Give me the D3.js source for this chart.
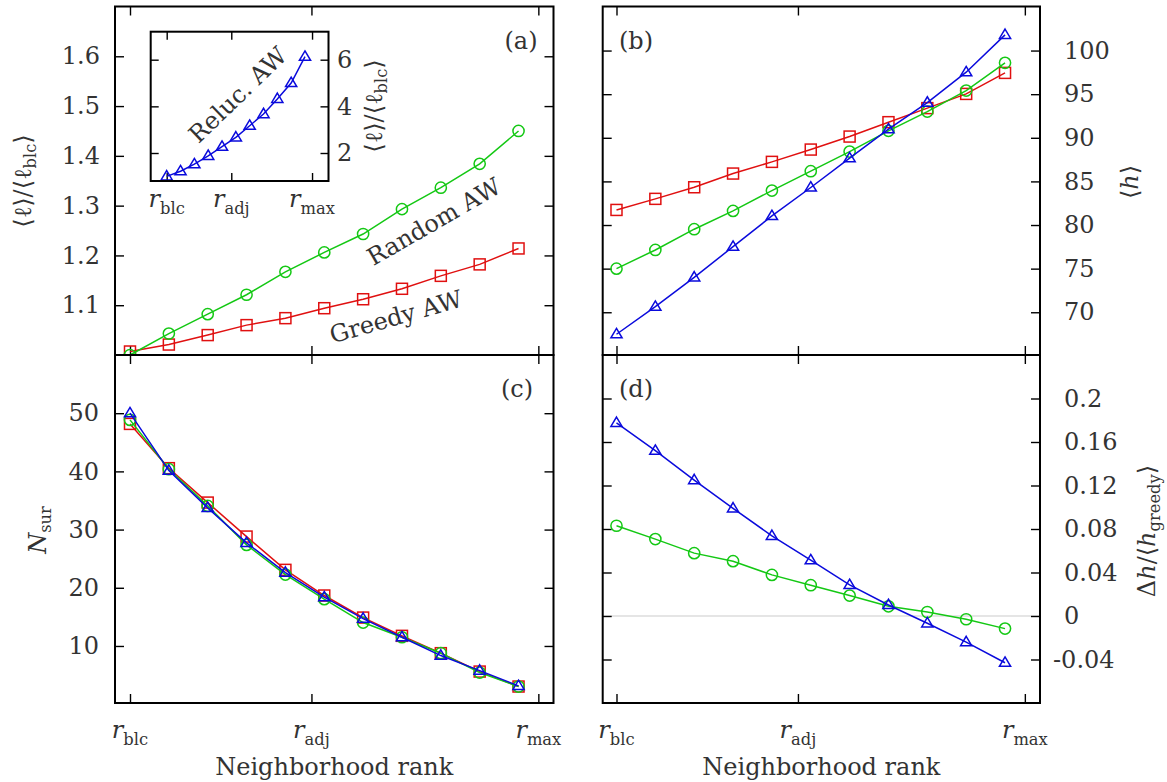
<!DOCTYPE html>
<html><head><meta charset="utf-8">
<script src="https://cdn.jsdelivr.net/npm/d3@7"></script>
<style>body{margin:0;background:#fff}</style>
</head><body>
<svg id="c" width="1167" height="782"></svg>
<script>
// ---------------- data ----------------
const ranks = [0,1,2,3,4,5,6,7,8,9,10];
const xTickPos = [0, 4.67, 10.51];
const xTickSubs = ["blc","adj","max"];

// (a) <l>/<l_blc>
const greedyLen = [1.007, 1.021, 1.040, 1.060, 1.074, 1.094, 1.112, 1.133, 1.159, 1.182, 1.214];
const randomLen = [1.000, 1.043, 1.082, 1.121, 1.167, 1.206, 1.243, 1.293, 1.336, 1.384, 1.450];
// inset: reluctant
const relucLen  = [1.00, 1.22, 1.52, 1.88, 2.27, 2.67, 3.17, 3.67, 4.32, 5.00, 6.13];

// (b) <h>
const greedyH = [81.73, 83.00, 84.33, 85.90, 87.24, 88.65, 90.14, 91.79, 93.40, 95.03, 97.44];
const randomH = [75.00, 77.14, 79.52, 81.62, 83.95, 86.17, 88.42, 90.80, 93.00, 95.41, 98.59];
const relucH  = [67.48, 70.64, 74.00, 77.52, 81.04, 84.30, 87.66, 90.99, 94.04, 97.52, 101.80];

// (c) N_sur
const greedyN = [48.16, 40.55, 34.64, 28.80, 23.08, 18.67, 14.88, 11.74, 8.76, 5.60, 3.03];
const randomN = [48.85, 40.38, 34.07, 27.37, 22.27, 18.04, 14.02, 11.50, 8.76, 5.43, 3.03];
const relucN  = [50.00, 40.14, 33.73, 27.72, 22.61, 18.38, 14.71, 11.50, 8.35, 5.77, 3.14];

// (d) Delta h / <h_greedy>
const randomDh = [0.0830, 0.0707, 0.0578, 0.0504, 0.0378, 0.0283, 0.0188, 0.0089, 0.0037, -0.0030, -0.0116];
const relucDh  = [0.1776, 0.1520, 0.1250, 0.0990, 0.0737, 0.0513, 0.0286, 0.0101, -0.0067, -0.0240, -0.0430];

const yTicksA = [1.1, 1.2, 1.3, 1.4, 1.5, 1.6];
const yTicksB = [70, 75, 80, 85, 90, 95, 100];
const yTicksC = [10, 20, 30, 40, 50];
const yTicksD = [-0.04, 0, 0.04, 0.08, 0.12, 0.16, 0.2];
const yTicksInset = [2, 4, 6];

// ---------------- style ----------------
const FONT = "DejaVu Serif";
const FS = 24;
const TXT = "#333333";
const RED = "#e01010", GREEN = "#14c814", BLUE = "#0a0adc";

const svg = d3.select("#c");

function rich(parent, x, y, parts, o = {}) {
  const size = o.size || FS;
  const t = parent.append("text").attr("x", x).attr("y", y)
    .attr("text-anchor", o.anchor || "middle")
    .attr("font-family", FONT).attr("font-size", size).attr("fill", TXT);
  if (o.baseline) t.attr("dominant-baseline", o.baseline);
  let shift = 0;
  for (const [s, k] of parts) {
    const sub = k.includes("s");
    const ts = t.append("tspan").text(s);
    if (k.includes("i")) ts.attr("font-style", "italic");
    if (sub) ts.attr("font-size", size * 0.68);
    const target = sub ? size * 0.3 : 0;
    if (target !== shift) { ts.attr("dy", target - shift); shift = target; }
  }
  if (o.rotate) t.attr("transform", `rotate(${o.rotate},${x},${y})`);
  return t;
}

function marker(g, shape, color, pts) {
  const sel = g.selectAll(null).data(pts).enter();
  if (shape === "square") {
    sel.append("rect").attr("x", d => d[0] - 5.5).attr("y", d => d[1] - 5.5)
      .attr("width", 11).attr("height", 11)
      .attr("fill", "none").attr("stroke", color).attr("stroke-width", 1.5);
  } else if (shape === "circle") {
    sel.append("circle").attr("cx", d => d[0]).attr("cy", d => d[1]).attr("r", 5.6)
      .attr("fill", "none").attr("stroke", color).attr("stroke-width", 1.5);
  } else {
    sel.append("path").attr("d", d => `M${d[0]},${d[1]-5.8}L${d[0]+5.6},${d[1]+3.6}L${d[0]-5.6},${d[1]+3.6}Z`)
      .attr("fill", "none").attr("stroke", color).attr("stroke-width", 1.5);
  }
}

function drawPanel(p) {
  const x = d3.scaleLinear().domain(p.xDomain).range([p.x0, p.x1]);
  const y = d3.scaleLinear().domain(p.yDomain).range([p.y1, p.y0]);
  const g = svg.append("g");
  g.append("rect").attr("x", p.x0).attr("y", p.y0).attr("width", p.x1 - p.x0).attr("height", p.y1 - p.y0)
    .attr("fill", "#fff");
  if (p.zero) {
    g.append("line").attr("x1", p.x0).attr("x2", p.x1).attr("y1", y(0)).attr("y2", y(0))
      .attr("stroke", "#dcdcdc").attr("stroke-width", 1.6);
  }
  const tl = p.tickLen;
  const fmt = d => String(d);
  const axes = [
    [d3.axisBottom(x).tickValues(xTickPos).tickSize(-tl).tickFormat(""), `translate(0,${p.y1})`],
    [d3.axisTop(x).tickValues(xTickPos).tickSize(-tl).tickFormat(""), `translate(0,${p.y0})`],
    [d3.axisLeft(y).tickValues(p.yTicks).tickSize(-tl).tickPadding(p.yPad)
       .tickFormat(p.ySide === "left" ? fmt : ""), `translate(${p.x0},0)`],
    [d3.axisRight(y).tickValues(p.yTicks).tickSize(-tl).tickPadding(p.yPad)
       .tickFormat(p.ySide === "right" ? fmt : ""), `translate(${p.x1},0)`]
  ];
  for (const [ax, tr] of axes) {
    const a = g.append("g").attr("transform", tr).call(ax);
    a.select(".domain").remove();
    a.attr("font-family", FONT).attr("font-size", FS);
    a.selectAll("line").attr("stroke", "#000").attr("stroke-width", 1.4);
    a.selectAll("text").attr("fill", TXT)
      .attr("dx", d => (p.ySide === "right" && d < 0) ? -11 : 0);
  }
  for (const s of p.series) {
    const pts = ranks.map((r, i) => [x(r), y(s.values[i])]);
    g.append("path").attr("d", d3.line()(pts)).attr("fill", "none")
      .attr("stroke", s.color).attr("stroke-width", 1.5);
    marker(g, s.shape, s.color, pts);
  }
  g.append("rect").attr("x", p.x0).attr("y", p.y0).attr("width", p.x1 - p.x0).attr("height", p.y1 - p.y0)
    .attr("fill", "none").attr("stroke", "#000").attr("stroke-width", 2);
  return { x, y, g };
}

const LX = [115, 553.5], RX = [602.7, 1040];
const TY = [6.5, 355], BY = [355, 703];
const xDomL = [-0.386, 10.90], xDomR = [-0.355, 10.90];

// (a)
const pa = drawPanel({ x0: LX[0], x1: LX[1], y0: TY[0], y1: TY[1], xDomain: xDomL,
  yDomain: [1.0, 1.7], yTicks: yTicksA, ySide: "left", yPad: 15, tickLen: 9,
  series: [ { values: greedyLen, color: RED, shape: "square" },
            { values: randomLen, color: GREEN, shape: "circle" } ] });
// (b)
const pb = drawPanel({ x0: RX[0], x1: RX[1], y0: TY[0], y1: TY[1], xDomain: xDomR,
  yDomain: [65.1, 105.05], yTicks: yTicksB, ySide: "right", yPad: 24, tickLen: 9,
  series: [ { values: greedyH, color: RED, shape: "square" },
            { values: randomH, color: GREEN, shape: "circle" },
            { values: relucH, color: BLUE, shape: "triangle" } ] });
// (c)
const pc = drawPanel({ x0: LX[0], x1: LX[1], y0: BY[0], y1: BY[1], xDomain: xDomL,
  yDomain: [0.2, 60], yTicks: yTicksC, ySide: "left", yPad: 16, tickLen: 9,
  series: [ { values: greedyN, color: RED, shape: "square" },
            { values: randomN, color: GREEN, shape: "circle" },
            { values: relucN, color: BLUE, shape: "triangle" } ] });
// (d)
const pd = drawPanel({ x0: RX[0], x1: RX[1], y0: BY[0], y1: BY[1], xDomain: xDomR,
  yDomain: [-0.08, 0.24], yTicks: yTicksD, ySide: "right", yPad: 24, tickLen: 9, zero: true,
  series: [ { values: randomDh, color: GREEN, shape: "circle" },
            { values: relucDh, color: BLUE, shape: "triangle" } ] });
// inset
const pi = drawPanel({ x0: 150.7, x1: 328.5, y0: 31.7, y1: 181, xDomain: [-1.157, 11.70],
  yDomain: [0.8, 7.2], yTicks: yTicksInset, ySide: "right", yPad: 8.5, tickLen: 8,
  series: [ { values: relucLen, color: BLUE, shape: "triangle" } ] });

// x tick labels
for (const [pp, base] of [[pc, 738], [pd, 738], [pi, 207]]) {
  xTickPos.forEach((v, i) => rich(svg, pp.x(v), base, [["r", "i"], [xTickSubs[i], "s"]]));
}
// x axis titles
rich(svg, (LX[0] + LX[1]) / 2, 775, [["Neighborhood rank", "n"]]);
rich(svg, (RX[0] + RX[1]) / 2, 775, [["Neighborhood rank", "n"]]);

// y axis titles
rich(svg, 23, 181, [["⟨", "n"], ["ℓ", "n"], ["⟩/⟨", "n"], ["ℓ", "n"], ["blc", "s"], ["⟩", "n"]],
  { rotate: -90, baseline: "central" });
rich(svg, 373.5, 106, [["⟨", "n"], ["ℓ", "n"], ["⟩/⟨", "n"], ["ℓ", "n"], ["blc", "s"], ["⟩", "n"]],
  { rotate: -90, baseline: "central" });
rich(svg, 1130, 182, [["⟨", "n"], ["h", "i"], ["⟩", "n"]], { rotate: -90, baseline: "central" });
rich(svg, 37.5, 530, [["N", "i"], ["sur", "s"]], { rotate: -90, baseline: "central" });
rich(svg, 1146.5, 531, [["Δ", "n"], ["h", "i"], ["/⟨", "n"], ["h", "i"], ["greedy", "s"], ["⟩", "n"]],
  { rotate: -90, baseline: "central" });

// panel tags
rich(svg, 521, 41, [["(a)", "n"]], { baseline: "central" });
rich(svg, 636, 41, [["(b)", "n"]], { baseline: "central" });
rich(svg, 517, 389, [["(c)", "n"]], { baseline: "central" });
rich(svg, 636, 389, [["(d)", "n"]], { baseline: "central" });

// curve annotations
rich(svg, 434, 222, [["Random AW", "n"]], { rotate: -30, baseline: "central" });
rich(svg, 396, 317, [["Greedy AW", "n"]], { rotate: -16, baseline: "central" });
rich(svg, 238, 95, [["Reluc. AW", "n"]], { rotate: -44, baseline: "central" });
</script>
</body></html>
